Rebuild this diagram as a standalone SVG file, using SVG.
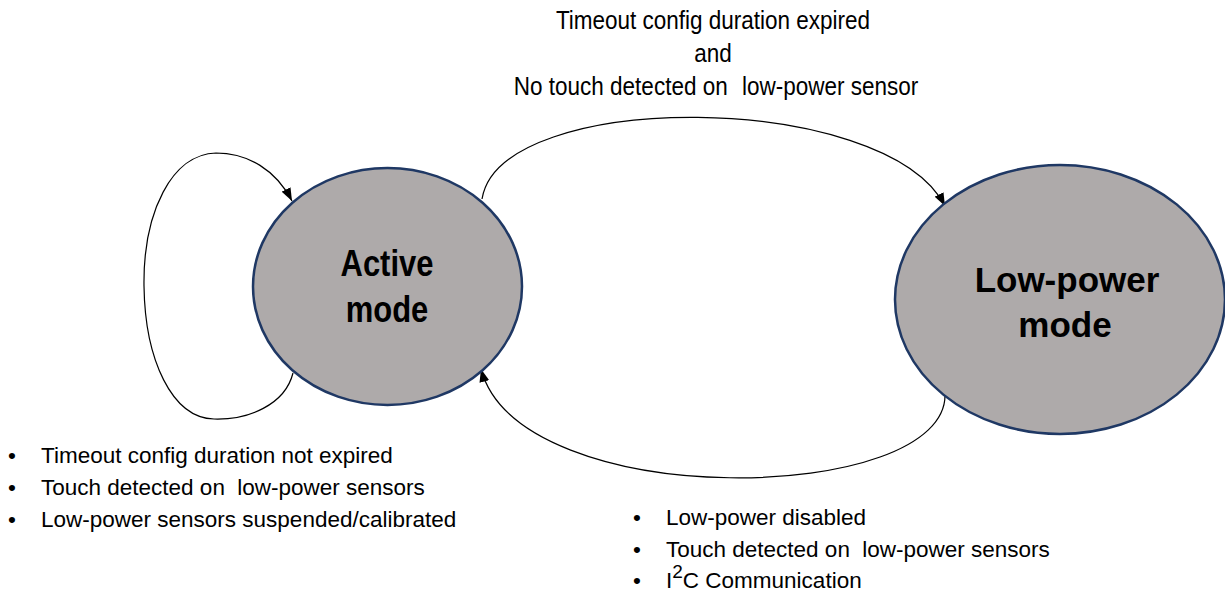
<svg xmlns="http://www.w3.org/2000/svg" width="1225" height="592" viewBox="0 0 1225 592">
<defs>
<marker id="arr" markerUnits="userSpaceOnUse" markerWidth="13" markerHeight="10" refX="13" refY="5" orient="auto">
<path d="M0,0 L13,5 L0,10 z" fill="#000"/>
</marker>
<style>
.state{fill:#AEAAAA;stroke:#1F3864;stroke-width:2.5}
.title{font-family:"Liberation Sans",Arial,sans-serif;font-weight:bold;fill:#000;text-anchor:middle}
.lbl{font-family:"Liberation Sans",Arial,sans-serif;font-size:22.5px;fill:#000}
.mid{text-anchor:middle}
.conn{fill:none;stroke:#000;stroke-width:1.2;marker-end:url(#arr)}
</style>
</defs>
<rect width="1225" height="592" fill="#fff"/>
<g id="connectors">
<path class="conn" d="M293,373 C285,405 248,420 214,419 C172,418 145,360 144,286 C143,212 172,154 216,153 C248,153 276,170 292,201"/>
<path class="conn" d="M482,199 C500,88 885,90 945,206"/>
<path class="conn" d="M945,393 C950,505 520,515 481,369"/>
</g>
<g id="active-mode">
<ellipse class="state" cx="387.5" cy="286.5" rx="134.5" ry="118.5"/>
<text class="title" font-size="31" transform="translate(387,276) scale(1,1.18)">Active</text>
<text class="title" font-size="31" transform="translate(387,322) scale(1,1.18)">mode</text>
</g>
<g id="low-power-mode">
<ellipse class="state" cx="1060" cy="299.5" rx="165" ry="134.5"/>
<text class="title" font-size="35" transform="translate(1067,292)">Low-power</text>
<text class="title" font-size="35" transform="translate(1065,337)">mode</text>
</g>
<g id="label-top">
<text class="lbl mid" transform="translate(713,29) scale(1,1.13)">Timeout config duration expired</text>
<text class="lbl mid" transform="translate(713,62) scale(1,1.13)">and</text>
<text class="lbl mid" transform="translate(716,95) scale(1,1.13)">No touch detected on <tspan dx="8">low-power sensor</tspan></text>
</g>
<g id="label-loop">
<text class="lbl" x="8" y="463">•</text><text class="lbl" x="41" y="463">Timeout config duration not expired</text>
<text class="lbl" x="8" y="495">•</text><text class="lbl" x="41" y="495">Touch detected on <tspan dx="6">low-power sensors</tspan></text>
<text class="lbl" x="8" y="527">•</text><text class="lbl" x="41" y="527">Low-power sensors suspended/calibrated</text>
</g>
<g id="label-bottom">
<text class="lbl" x="633" y="525">•</text><text class="lbl" x="666" y="525">Low-power disabled</text>
<text class="lbl" x="633" y="557">•</text><text class="lbl" x="666" y="557">Touch detected on <tspan dx="6">low-power sensors</tspan></text>
<text class="lbl" x="633" y="588">•</text><text class="lbl" x="666" y="588">I<tspan dy="-10" font-size="19">2</tspan><tspan dy="10">C Communication</tspan></text>
</g>
</svg>
